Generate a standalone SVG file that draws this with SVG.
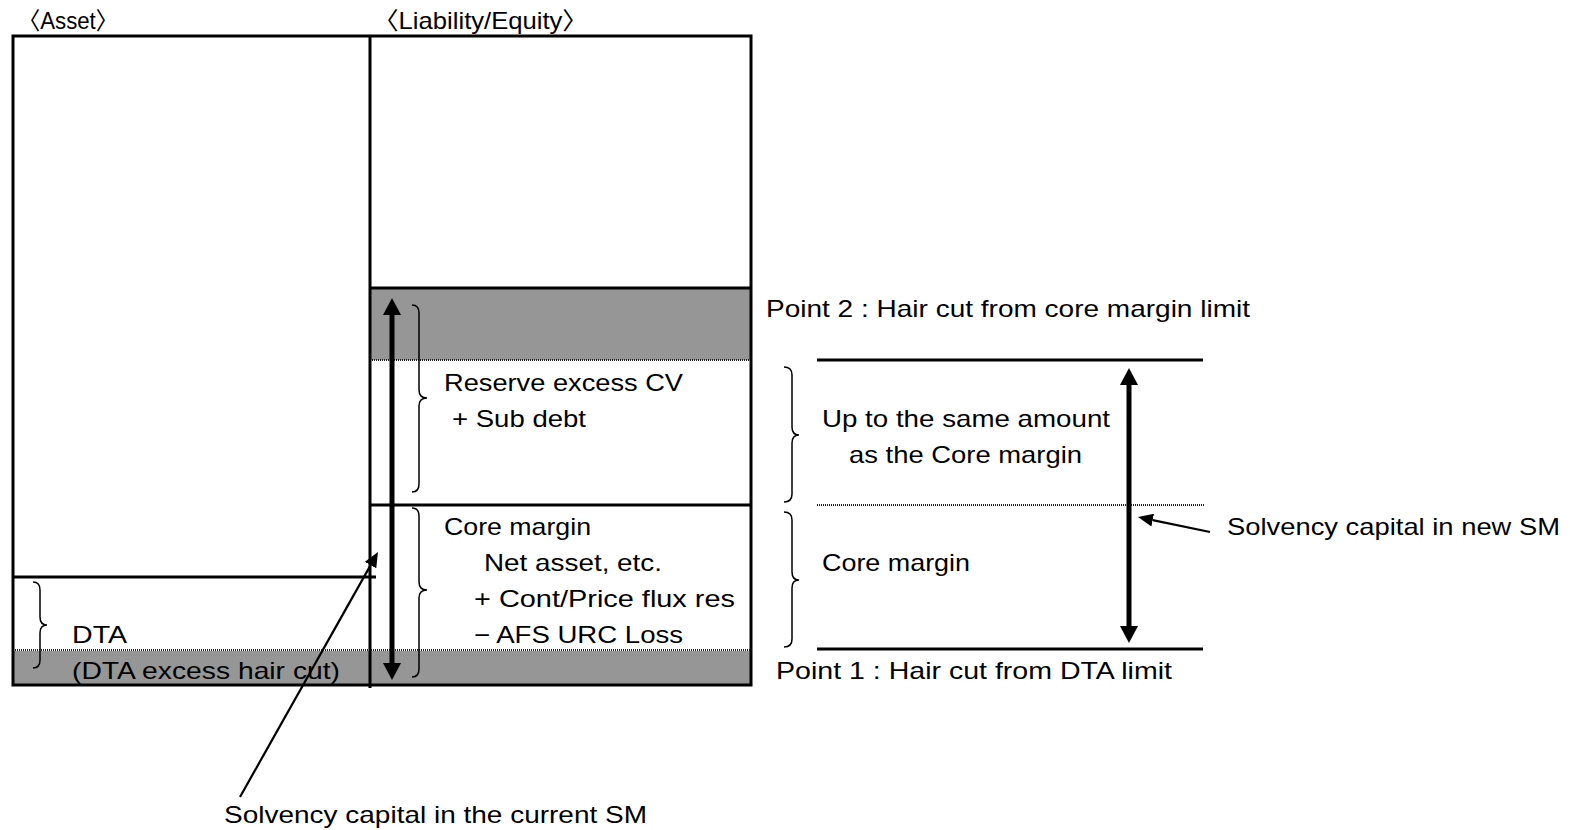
<svg xmlns="http://www.w3.org/2000/svg" width="1570" height="830" viewBox="0 0 1570 830">
<style>
text{font-family:"Liberation Sans","Noto Sans CJK JP",sans-serif;font-size:24px;fill:#000}
.thick{stroke:#000;stroke-width:3;fill:none}
.dot{stroke:#222;stroke-width:2;stroke-dasharray:1 1;fill:none}
.brace{stroke:#000;stroke-width:1.5;fill:none}
.gray{fill:#969696}
.shaft{stroke:#000;stroke-width:5;fill:none}
.lead{stroke:#000;stroke-width:2.2;fill:none}
</style>
<defs>
<marker id="big" markerUnits="userSpaceOnUse" markerWidth="18" markerHeight="18" refX="0" refY="9" orient="auto-start-reverse">
<path d="M0,0 L17,9 L0,18 Z" fill="#000"/>
</marker>
<marker id="small" markerUnits="userSpaceOnUse" markerWidth="16" markerHeight="13" refX="0" refY="6.5" orient="auto">
<path d="M0,0 L15,6.5 L0,13 Z" fill="#000"/>
</marker>
</defs>

<g id="balance-sheet">
<rect class="gray" x="370" y="289" width="381" height="71"/>
<rect class="gray" x="13" y="651" width="738" height="34"/>
<line class="dot" x1="370" y1="360" x2="751" y2="360"/>
<line class="dot" x1="13" y1="650" x2="751" y2="650"/>
<rect class="thick" x="13" y="36" width="738" height="649"/>
<line class="thick" x1="370" y1="36" x2="370" y2="688"/>
<line class="thick" x1="370" y1="288" x2="751" y2="288"/>
<line class="thick" x1="370" y1="505" x2="751" y2="505"/>
<line class="thick" x1="13" y1="577" x2="376" y2="577"/>
</g>

<g id="headers">
<text x="18" y="29" textLength="100" lengthAdjust="spacingAndGlyphs">〈Asset〉</text>
<text x="373" y="29" textLength="215" lengthAdjust="spacingAndGlyphs">〈Liability/Equity〉</text>
</g>

<g id="reserve-node">
<path class="brace" d="M412,305 Q419,305 419,313 L419,390 Q419,398 427,398 Q419,398 419,406 L419,484 Q419,492 412,492"/>
<text x="444" y="391" textLength="239" lengthAdjust="spacingAndGlyphs">Reserve excess CV</text>
<text x="452" y="427" textLength="134" lengthAdjust="spacingAndGlyphs">+ Sub debt</text>
</g>

<g id="core-node">
<path class="brace" d="M412,508 Q419,508 419,516 L419,582 Q419,590 427,590 Q419,590 419,598 L419,669 Q419,677 412,677"/>
<text x="444" y="535" textLength="147" lengthAdjust="spacingAndGlyphs">Core margin</text>
<text x="484" y="571" textLength="178" lengthAdjust="spacingAndGlyphs">Net asset, etc.</text>
<text x="474" y="607" textLength="261" lengthAdjust="spacingAndGlyphs">+ Cont/Price flux res</text>
<text x="474" y="643" textLength="209" lengthAdjust="spacingAndGlyphs">− AFS URC Loss</text>
</g>

<g id="dta-node">
<path class="brace" d="M33,582 Q40,582 40,590 L40,617 Q40,625 47,625 Q40,625 40,633 L40,660 Q40,668 33,668"/>
<text x="72" y="643" textLength="55" lengthAdjust="spacingAndGlyphs">DTA</text>
<text x="72" y="679" textLength="268" lengthAdjust="spacingAndGlyphs">(DTA excess hair cut)</text>
</g>

<g id="new-sm">
<line class="thick" x1="817" y1="360" x2="1203" y2="360"/>
<line class="dot" x1="817" y1="505" x2="1205" y2="505"/>
<line class="thick" x1="817" y1="649" x2="1203" y2="649"/>
<path class="brace" d="M784,367 Q792,367 792,375 L792,427 Q792,435 799,435 Q792,435 792,443 L792,494 Q792,502 784,502"/>
<path class="brace" d="M784,512 Q792,512 792,520 L792,572 Q792,580 799,580 Q792,580 792,588 L792,639 Q792,647 784,647"/>
<text x="766" y="317" textLength="484" lengthAdjust="spacingAndGlyphs">Point 2 : Hair cut from core margin limit</text>
<text x="822" y="427" textLength="288" lengthAdjust="spacingAndGlyphs">Up to the same amount</text>
<text x="849" y="463" textLength="233" lengthAdjust="spacingAndGlyphs">as the Core margin</text>
<text x="822" y="571" textLength="148" lengthAdjust="spacingAndGlyphs">Core margin</text>
<text x="776" y="679" textLength="396" lengthAdjust="spacingAndGlyphs">Point 1 : Hair cut from DTA limit</text>
<text x="1227" y="535" textLength="333" lengthAdjust="spacingAndGlyphs">Solvency capital in new SM</text>
</g>

<g id="current-sm-label">
<text x="224" y="823" textLength="423" lengthAdjust="spacingAndGlyphs">Solvency capital in the current SM</text>
</g>

<g id="connectors">
<line class="shaft" x1="392" y1="315" x2="392" y2="663" marker-start="url(#big)" marker-end="url(#big)"/>
<line class="shaft" x1="1129" y1="385" x2="1129" y2="626" marker-start="url(#big)" marker-end="url(#big)"/>
<line class="lead" x1="240" y1="797" x2="370.6" y2="565.1" marker-end="url(#small)"/>
<line class="lead" x1="1210" y1="532" x2="1152.7" y2="520.1" marker-end="url(#small)"/>
</g>
</svg>
